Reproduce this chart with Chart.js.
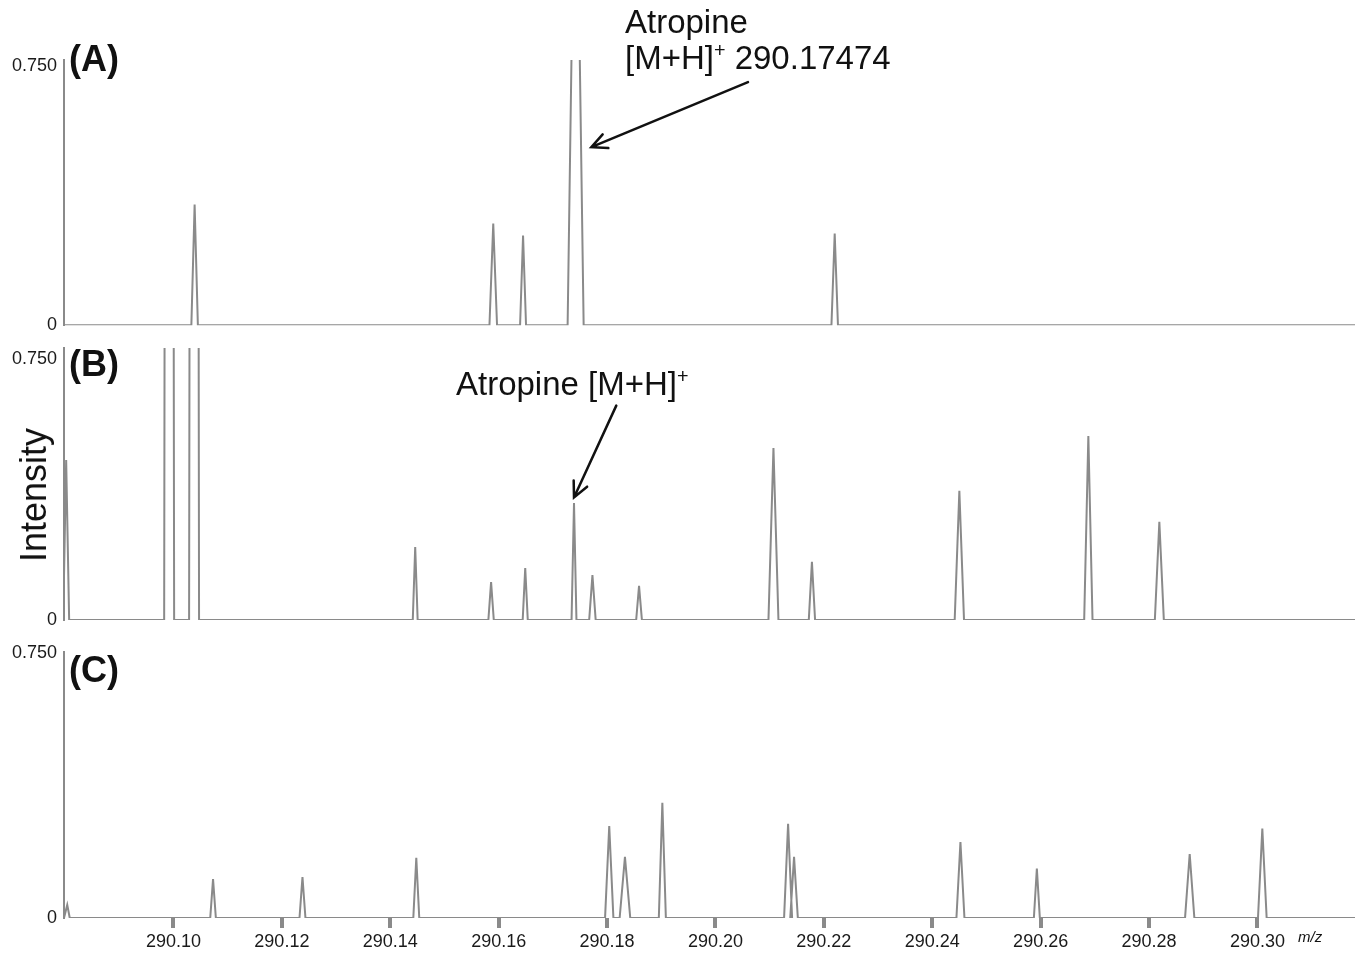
<!DOCTYPE html>
<html lang="en">
<head>
<meta charset="UTF-8">
<title>Atropine spectra</title>
<script src="https://cdn.jsdelivr.net/npm/chart.js@4.4.0/dist/chart.umd.min.js"></script>
<style>
    body { margin: 0; background: #fff; }
    #wrap { position: relative; width: 1362px; height: 953px; font-family: "Liberation Sans", Arial, sans-serif; color: #111; }
    #wrap canvas { position: absolute; left: 0; }
    .txt { position: absolute; white-space: nowrap; }
    .panel { font-weight: bold; font-size: 36px; line-height: 36px; }
    .note { font-size: 33px; line-height: 36px; }
    .note sup { font-size: 0.6em; line-height: 0; vertical-align: 0.6em; }
</style>
</head>
<body>
<div id="wrap">
    <canvas id="chartA" width="1362" height="343" style="top:0px"></canvas>
    <canvas id="chartB" width="1362" height="320" style="top:320px"></canvas>
    <canvas id="chartC" width="1362" height="333" style="top:620px"></canvas>

    <div class="txt panel" style="left:69px; top:41px">(A)</div>
    <div class="txt panel" style="left:69px; top:346px">(B)</div>
    <div class="txt panel" style="left:69px; top:652px">(C)</div>

    <div class="txt note" style="left:625px; top:4px">Atropine<br>[M+H]<sup>+</sup> 290.17474</div>
    <div class="txt note" style="left:456px; top:366px">Atropine [M+H]<sup>+</sup></div>

    <div class="txt" style="left:34px; top:495px; font-size:36px; transform:translate(-50%,-50%) rotate(-90deg)">Intensity</div>
    <div class="txt" style="left:1298px; top:928px; font-size:15px; font-style:italic">m/z</div>
</div>

<script>
    // axis ranges and ticks
    const mzRange = [290.0798, 290.3180];
    const xTickValues = [290.10, 290.12, 290.14, 290.16, 290.18, 290.20, 290.22, 290.24, 290.26, 290.28, 290.30];
    const yTickValues = [0, 0.75];

    // (A) peaks: m/z, intensity, half width at base (m/z)
    const mzA = [290.1039, 290.1590, 290.1645, 290.1742, 290.2220];
    const intA = [0.349, 0.294, 0.259, 1.6, 0.265];
    const hwA = [0.0006, 0.0007, 0.00055, 0.00148, 0.0006];

    // (B)
    const mzB = [290.0802, 290.0992, 290.1038, 290.1446, 290.1586, 290.1649, 290.1739, 290.1773, 290.1859,
                 290.2107, 290.2178, 290.2450, 290.2688, 290.2819];
    const intB = [0.46, 10, 10, 0.21, 0.109, 0.149, 0.336, 0.129, 0.098, 0.494, 0.167, 0.371, 0.529, 0.282];
    const hwB = [0.00055, 0.00092, 0.00092, 0.00045, 0.0005, 0.00047, 0.00045, 0.0006, 0.00053,
                 0.00092, 0.00058, 0.00086, 0.00077, 0.00083];

    // (C)
    const mzC = [290.0804, 290.1073, 290.1238, 290.1448, 290.1804, 290.1833, 290.1902, 290.2134, 290.2145,
                 290.2452, 290.2593, 290.2875, 290.3009];
    const intC = [0.037, 0.110, 0.116, 0.170, 0.26, 0.173, 0.326, 0.266, 0.173, 0.215, 0.140, 0.181, 0.253];
    const hwC = [0.00046, 0.00052, 0.00055, 0.00055, 0.00077, 0.00098, 0.00065, 0.00074, 0.0007,
                 0.00074, 0.00055, 0.00086, 0.0008];

    // arrows: [m/z, intensity] of tail and tip
    const arrowA = { from: [290.2060, 0.703], to: [290.1771, 0.515] };
    const arrowB = { from: [290.1817, 0.616], to: [290.1739, 0.352] };

    const FONT = '"Liberation Sans", Arial, sans-serif';
    const LINE = '#8a8a8a';

    function buildSpectrum(mz, inten, hw) {
        const pts = [{ x: mzRange[0], y: 0 }];
        mz.forEach((c, i) => {
            pts.push({ x: c - hw[i], y: 0 }, { x: c, y: inten[i] }, { x: c + hw[i], y: 0 });
        });
        pts.push({ x: mzRange[1], y: 0 });
        return pts;
    }

    const arrowPlugin = {
        id: 'arrow',
        afterDatasetsDraw(chart, args, opts) {
            if (!opts || !opts.from) return;
            const xs = chart.scales.x, ys = chart.scales.y, ctx = chart.ctx;
            const x1 = xs.getPixelForValue(opts.from[0]), y1 = ys.getPixelForValue(opts.from[1]);
            const x2 = xs.getPixelForValue(opts.to[0]), y2 = ys.getPixelForValue(opts.to[1]);
            const a = Math.atan2(y2 - y1, x2 - x1), L = 17;
            ctx.save();
            ctx.strokeStyle = '#111';
            ctx.lineWidth = 2.5;
            ctx.lineCap = 'round';
            ctx.beginPath();
            ctx.moveTo(x1, y1);
            ctx.lineTo(x2, y2);
            ctx.moveTo(x2 - L * Math.cos(a - 0.45), y2 - L * Math.sin(a - 0.45));
            ctx.lineTo(x2, y2);
            ctx.lineTo(x2 - L * Math.cos(a + 0.45), y2 - L * Math.sin(a + 0.45));
            ctx.stroke();
            ctx.restore();
        }
    };

    function makePanel(id, data, yMax, padTop, padBottom, showX, arrow) {
        new Chart(document.getElementById(id), {
            type: 'line',
            data: {
                datasets: [{
                    data: data,
                    borderColor: LINE,
                    borderWidth: 2,
                    pointRadius: 0,
                    tension: 0,
                    fill: false
                }]
            },
            plugins: [arrowPlugin],
            options: {
                responsive: false,
                animation: false,
                layout: { padding: { top: padTop, bottom: padBottom, left: 0, right: 7 } },
                plugins: {
                    legend: { display: false },
                    tooltip: { enabled: false },
                    arrow: arrow || {}
                },
                scales: {
                    x: {
                        type: 'linear',
                        min: mzRange[0],
                        max: mzRange[1],
                        display: showX,
                        afterBuildTicks: s => { s.ticks = xTickValues.map(v => ({ value: v })); },
                        afterFit: s => { s.height = showX ? 35 : 0; },
                        ticks: {
                            autoSkip: false,
                            maxRotation: 0,
                            padding: 3,
                            color: '#1a1a1a',
                            font: { size: 18, family: FONT },
                            callback: v => v.toFixed(2)
                        },
                        grid: { display: true, drawOnChartArea: false, drawTicks: true, tickLength: 10, lineWidth: 4, color: LINE },
                        border: { display: false }
                    },
                    y: {
                        min: 0,
                        max: yMax,
                        afterBuildTicks: s => { s.ticks = yTickValues.map(v => ({ value: v })); },
                        afterFit: s => { s.width = 64; },
                        ticks: {
                            padding: 7,
                            color: '#1a1a1a',
                            font: { size: 18, family: FONT },
                            callback: v => (v === 0 ? '0' : v.toFixed(3))
                        },
                        grid: { display: false, drawTicks: false },
                        border: { display: true, color: LINE, width: 2 }
                    }
                }
            }
        });
    }

    makePanel('chartA', buildSpectrum(mzA, intA, hwA), 0.767, 60, 16, false, arrowA);
    makePanel('chartB', buildSpectrum(mzB, intB, hwB), 0.7816, 28, 20, false, arrowB);
    makePanel('chartC', buildSpectrum(mzC, intC, hwC), 0.752, 32, 0, true, null);
</script>
</body>
</html>
